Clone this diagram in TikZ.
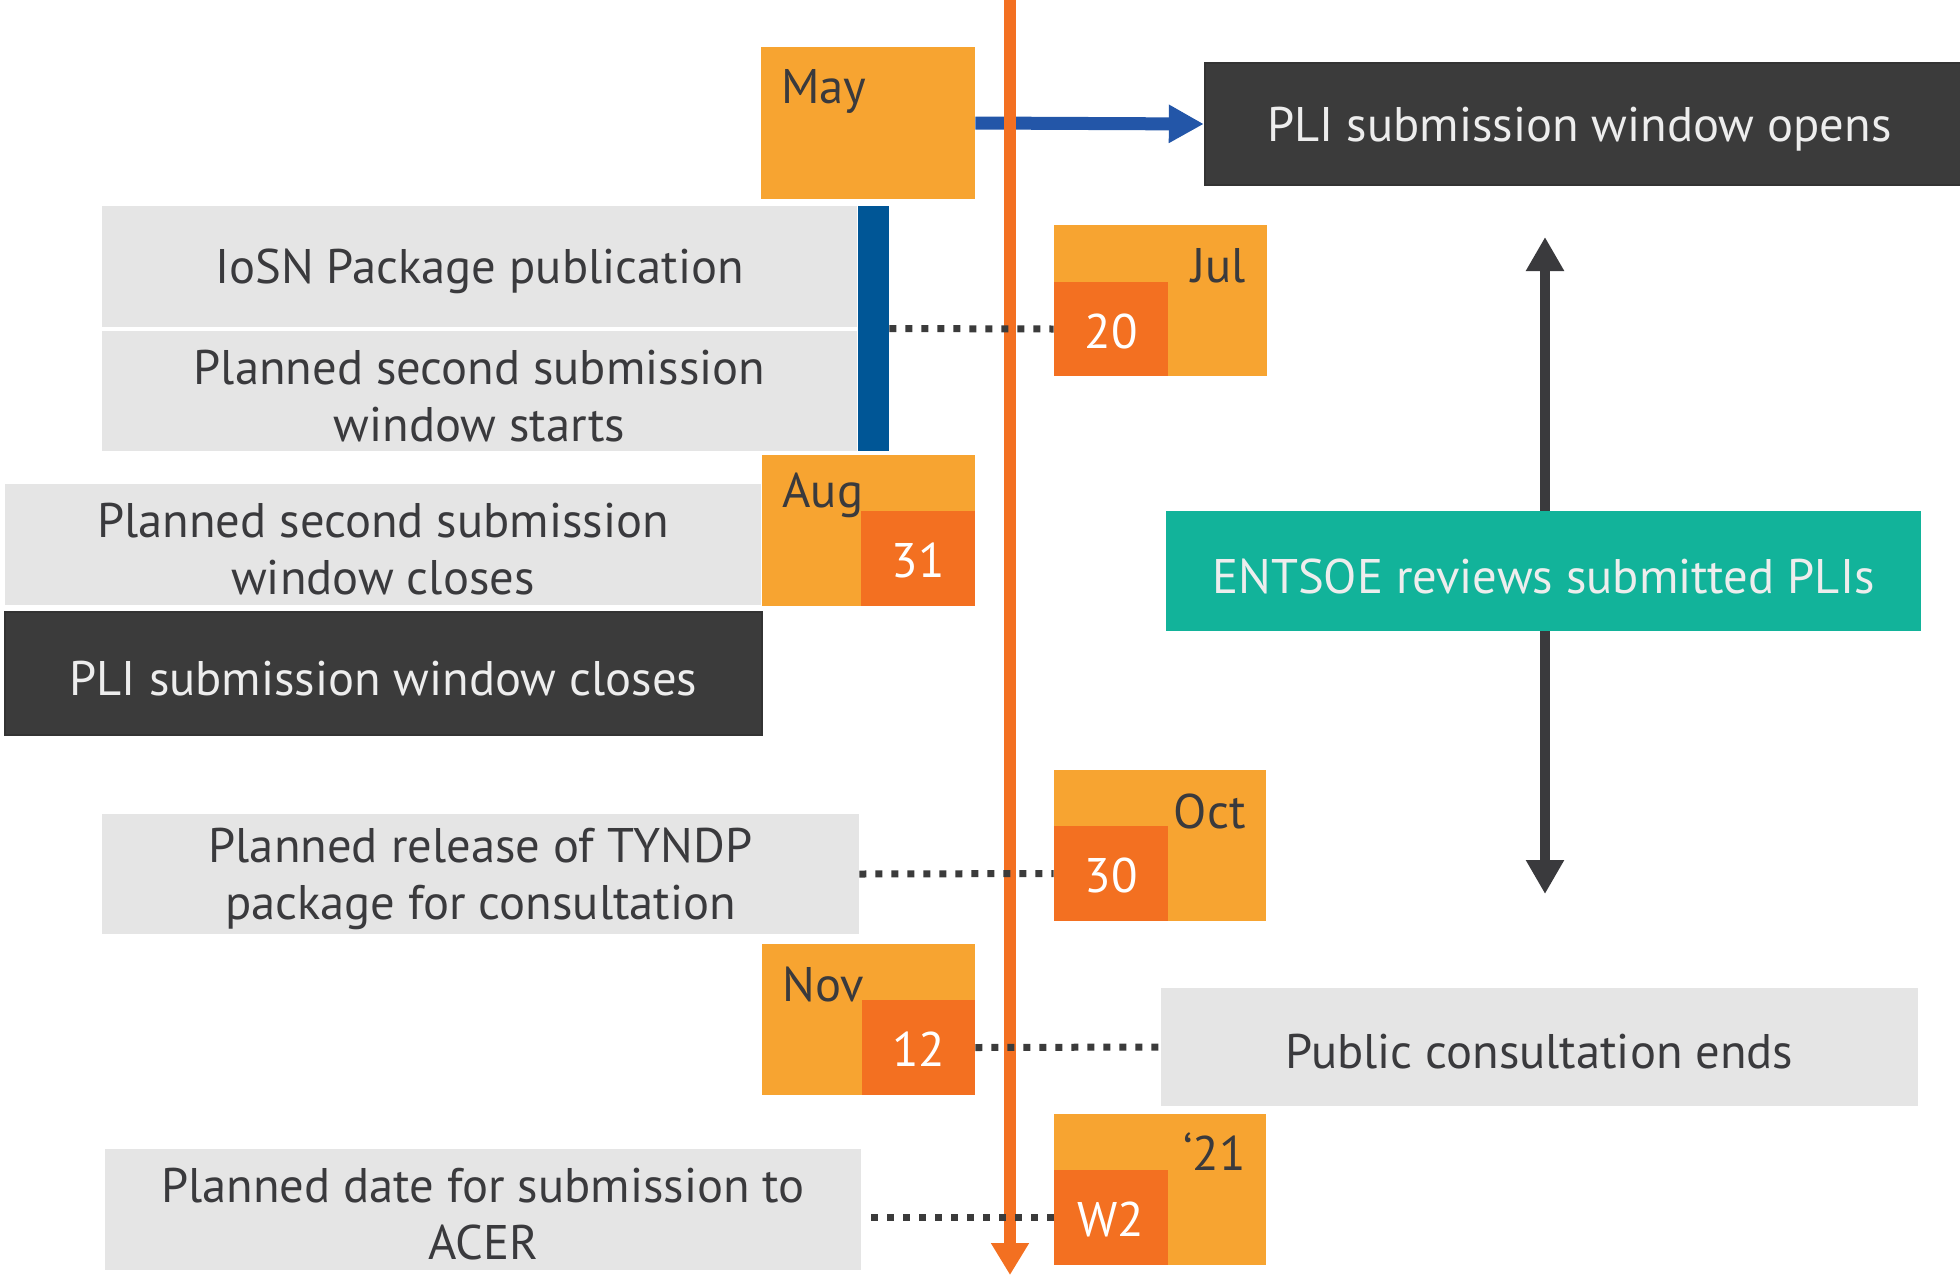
\documentclass[tikz,border=0pt]{standalone}
\usepackage{fontspec}
\setmainfont{PT Sans}
\usetikzlibrary{arrows.meta,fit}
\definecolor{lorange}{HTML}{F7A431}
\definecolor{dorange}{HTML}{F37021}
\definecolor{lgray}{HTML}{E5E5E5}
\definecolor{dgray}{HTML}{3B3B3B}
\definecolor{txt}{HTML}{3A3A3D}
\definecolor{tealb}{HTML}{12B39A}
\definecolor{bluea}{HTML}{2356A8}
\definecolor{blueb}{HTML}{005696}
\begin{document}
\begin{tikzpicture}[x=0.5pt,y=-0.5pt,
  tfont/.style={font=\fontsize{24.3}{28.5}\selectfont},
  lbox/.style={fill=lgray, inner sep=0pt},
  dbox/.style={fill=dgray, draw=black!80, line width=1.2pt, inner sep=0pt},
  tbox/.style={fill=tealb, inner sep=0pt},
  mbox/.style={fill=lorange, inner sep=0pt},
  nbox/.style={fill=dorange, inner sep=0pt},
  ltext/.style={inner sep=0pt, text=txt, tfont, align=center, yshift=-2.5pt},
  wtext/.style={inner sep=0pt, text=white!93!black, tfont, align=center, yshift=-2.5pt},
  ntext/.style={inner sep=0pt, text=white, tfont, yshift=-1pt},
  mtext/.style={inner sep=0pt, text=txt, tfont},
  dots/.style={draw=dgray, line width=3.5pt, dash pattern=on 3.5pt off 4.5pt},
]
\path[use as bounding box] (0,0) rectangle (1960,1275);

% light boxes
\node[lbox, fit={(102,206)(857,327)}] (iosn) {};
\node[ltext] (iosnt) at (iosn.center) {IoSN Package publication};
\node[lbox, fit={(102,331)(857,451)}] (starts) {};
\node[ltext] (startst) at (starts.center) {Planned second submission\\window starts};
\node[fill=blueb, inner sep=0pt, fit={(858,206)(889,451)}] (bar) {};
\node[lbox, fit={(5,484)(761,605)}] (closes2) {};
\node[ltext] (closes2t) at (closes2.center) {Planned second submission\\window closes};
\node[dbox, fit={(5,612)(762,735)}] (closes) {};
\node[wtext] (closest) at (closes.center) {PLI submission window closes};
\node[lbox, fit={(102,814)(859,934)}] (tyndp) {};
\node[ltext] (tyndpt) at (tyndp.center) {Planned release of TYNDP\\package for consultation};
\node[lbox, fit={(105,1149)(861,1270)}] (acer) {};
\node[ltext] (acert) at (acer.center) {Planned date for submission to\\ACER};
\node[dbox, fit={(1205,63)(1962,185)}] (opens) {};
\node[wtext] (openst) at ([xshift=-2pt]opens.center) {PLI submission window opens};
\node[lbox, fit={(1161,988)(1918,1106)}] (pub) {};
\node[ltext] (pubt) at (pub.center) {Public consultation ends};

% double arrow behind ENTSOE box
\coordinate (dtop) at (1545,237);
\coordinate (dbot) at (1545,894);
\draw[draw=txt, line width=5pt, {Triangle[width=18pt,length=17pt]}-{Triangle[width=18pt,length=17pt]}] (dtop) -- (dbot);
\node[tbox, fit={(1166,511)(1921,631)}] (entsoe) {};
\node[wtext] (entsoet) at (entsoe.center) {ENTSOE reviews submitted PLIs};

% date boxes
\node[mbox, fit={(761,47)(975,199)}] (may) {};
\node[mtext, anchor=west] (maylbl) at (781,91) {May};

\node[mbox, fit={(1054,225)(1267,376)}] (jul) {};
\node[mtext, anchor=east] (jullbl) at (1246,266) {Jul};
\node[nbox, fit={(1054,282)(1168,376)}] (d20) {};
\node[ntext] (d20t) at (d20.center) {20};

\node[mbox, fit={(762,455)(975,606)}] (aug) {};
\node[mtext, anchor=west] (auglbl) at (782,495) {Aug};
\node[nbox, fit={(861,511)(975,606)}] (d31) {};
\node[ntext] (d31t) at (d31.center) {31};

\node[mbox, fit={(1054,770)(1266,921)}] (oct) {};
\node[mtext, anchor=east] (octlbl) at (1246,811) {Oct};
\node[nbox, fit={(1054,826)(1168,921)}] (d30) {};
\node[ntext] (d30t) at (d30.center) {30};

\node[mbox, fit={(762,944)(975,1095)}] (nov) {};
\node[mtext, anchor=west] (novlbl) at (782,984) {Nov};
\node[nbox, fit={(862,1000)(975,1095)}] (d12) {};
\node[ntext] (d12t) at (d12.center) {12};

\node[mbox, fit={(1054,1114)(1266,1265)}] (y21) {};
\node[mtext, anchor=east] (y21lbl) at (1246,1152) {‘21};
\node[nbox, fit={(1054,1170)(1168,1265)}] (w2) {};
\node[ntext] (w2t) at (w2.center) {W2};

% blue arrow
\draw[draw=bluea, line width=6.5pt, -{Triangle[width=18pt,length=17.5pt]}] (may.east) -- (opens.west);

% timeline
\coordinate (ttop) at (1010,0);
\coordinate (tbot) at (1010,1275);
\draw[draw=dorange, line width=6pt, -{Triangle[width=18pt,length=16pt]}] (ttop) -- (tbot);

% dotted connectors
\draw[dots] (bar.east) -- (d20.west);
\draw[dots] (tyndp.east) -- (d30.west);
\draw[dots] (d12.east) -- (pub.west);
\draw[dots, shorten >=4pt] (w2.west) -- (w2.west -| acer.east);
\end{tikzpicture}
\end{document}
